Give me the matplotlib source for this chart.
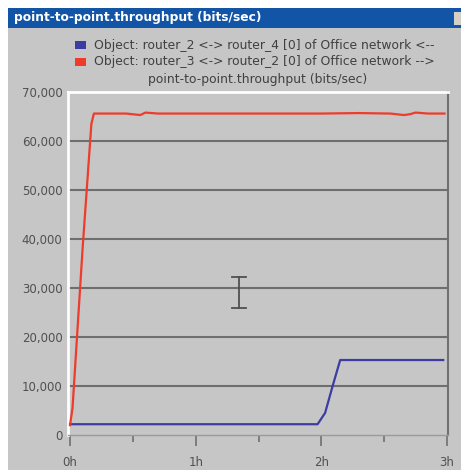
import matplotlib.pyplot as plt
from matplotlib.lines import Line2D
from matplotlib.patches import Rectangle
from matplotlib.ticker import FuncFormatter, MultipleLocator

# throughput samples, time in hours
red_t = [0.0, 0.02, 0.10, 0.17, 0.19, 0.30, 0.45, 0.52, 0.56, 0.60, 0.70, 1.0, 1.3, 1.6,
         2.0, 2.3, 2.55, 2.62, 2.66, 2.71, 2.75, 2.85, 2.98]
red_v = [2000, 5500, 38000, 63500, 65600, 65600, 65600, 65400, 65300, 65800, 65600, 65600,
         65600, 65600, 65600, 65700, 65600, 65400, 65300, 65500, 65800, 65600, 65600]

blue_t = [0.0, 1.97, 2.03, 2.09, 2.15, 2.97]
blue_v = [2200, 2200, 4500, 10000, 15300, 15300]

series_names = ["Object: router_2 <-> router_4 [0] of Office network <--",
                "Object: router_3 <-> router_2 [0] of Office network -->"]
stat_name = "point-to-point.throughput (bits/sec)"
hour_ticks = [0, 1, 2, 3]

W, H = 461, 470
fig = plt.figure(figsize=(W / 100, H / 100), dpi=100)
fig.patch.set_facecolor("white")

bg = "#c6c6c6"
# window body and title bar
fig.patches.append(Rectangle((8 / W, 0), 1 - 8 / W, 1 - 28 / H, transform=fig.transFigure,
                             facecolor=bg, edgecolor="none", zorder=0))
fig.patches.append(Rectangle((8 / W, 1 - 28 / H), 1 - 8 / W, 20 / H, transform=fig.transFigure,
                             facecolor="#1254a6", edgecolor="none", zorder=0))
fig.patches.append(Rectangle((453 / W, 1 - 25 / H), 10 / W, 14 / H, transform=fig.transFigure,
                             facecolor="#d4d0c8", edgecolor="#404040", lw=0.6, zorder=1))
fig.text(14 / W, 1 - 18 / H, stat_name, color="white", fontsize=8.8, fontweight="bold",
         va="center", ha="left")

# legend block
colors = ["#3c3ca2", "#ee3b2a"]
for i, (name, c) in enumerate(zip(series_names, colors)):
    y = 1 - (45 + 17 * i) / H
    fig.patches.append(Rectangle((75 / W, y - 4 / H), 11 / W, 8 / H, transform=fig.transFigure,
                                 facecolor=c, edgecolor="none"))
    fig.text(94 / W, y, name, fontsize=8.9, color="#404040", va="center", ha="left")
fig.text(258 / W, 1 - 79 / H, stat_name, fontsize=8.9, color="#404040", va="center", ha="center")

ax = fig.add_axes([68 / W, 35 / H, 380 / W, 343 / H])
ax.set_zorder(5)
ax.set_facecolor(bg)
ax.plot(blue_t, blue_v, color=colors[0], lw=1.6, zorder=3)
ax.plot(red_t, red_v, color=colors[1], lw=1.6, zorder=3)

ax.set_xlim(-0.016, 3.008)
ax.set_ylim(0, 70000)

ax.set_yticks(range(0, 70001, 10000))
ax.yaxis.set_major_formatter(FuncFormatter(lambda v, p: f"{int(v):,}"))
for g in range(10000, 70000, 10000):
    ax.axhline(g, color="#6e6e6e", lw=1.5, zorder=1)

ax.set_xticks(hour_ticks)
ax.set_xticklabels([f"{h}h" for h in hour_ticks])
ax.xaxis.set_minor_locator(MultipleLocator(0.5))
ax.tick_params(axis="x", which="major", length=8, width=1.2, color="#707070", pad=7,
               labelsize=8.5, labelcolor="#505050", direction="out")
ax.tick_params(axis="x", which="minor", length=5, width=1.2, color="#707070", direction="out")
ax.tick_params(axis="y", length=0, pad=4, labelsize=8.5, labelcolor="#505050")

ax.spines["top"].set_color("white")
ax.spines["top"].set_linewidth(2)
ax.spines["left"].set_color("white")
ax.spines["left"].set_linewidth(2)
ax.spines["right"].set_color("#707070")
ax.spines["right"].set_linewidth(1.5)
ax.spines["bottom"].set_color("#9a9a9a")
ax.spines["bottom"].set_linewidth(1)

# text-cursor glyph over the plot
cx, top, bot, half = 239, 277, 308, 7
for xs, ys in [([cx, cx], [top, bot]), ([cx - half, cx + half], [top, top]),
               ([cx - half, cx + half], [bot, bot])]:
    fig.lines.append(Line2D([x / W for x in xs], [1 - y / H for y in ys],
                            transform=fig.transFigure, color="#505050", lw=1.3, zorder=10))

fig.savefig("out.png", dpi=100, facecolor=fig.get_facecolor())
